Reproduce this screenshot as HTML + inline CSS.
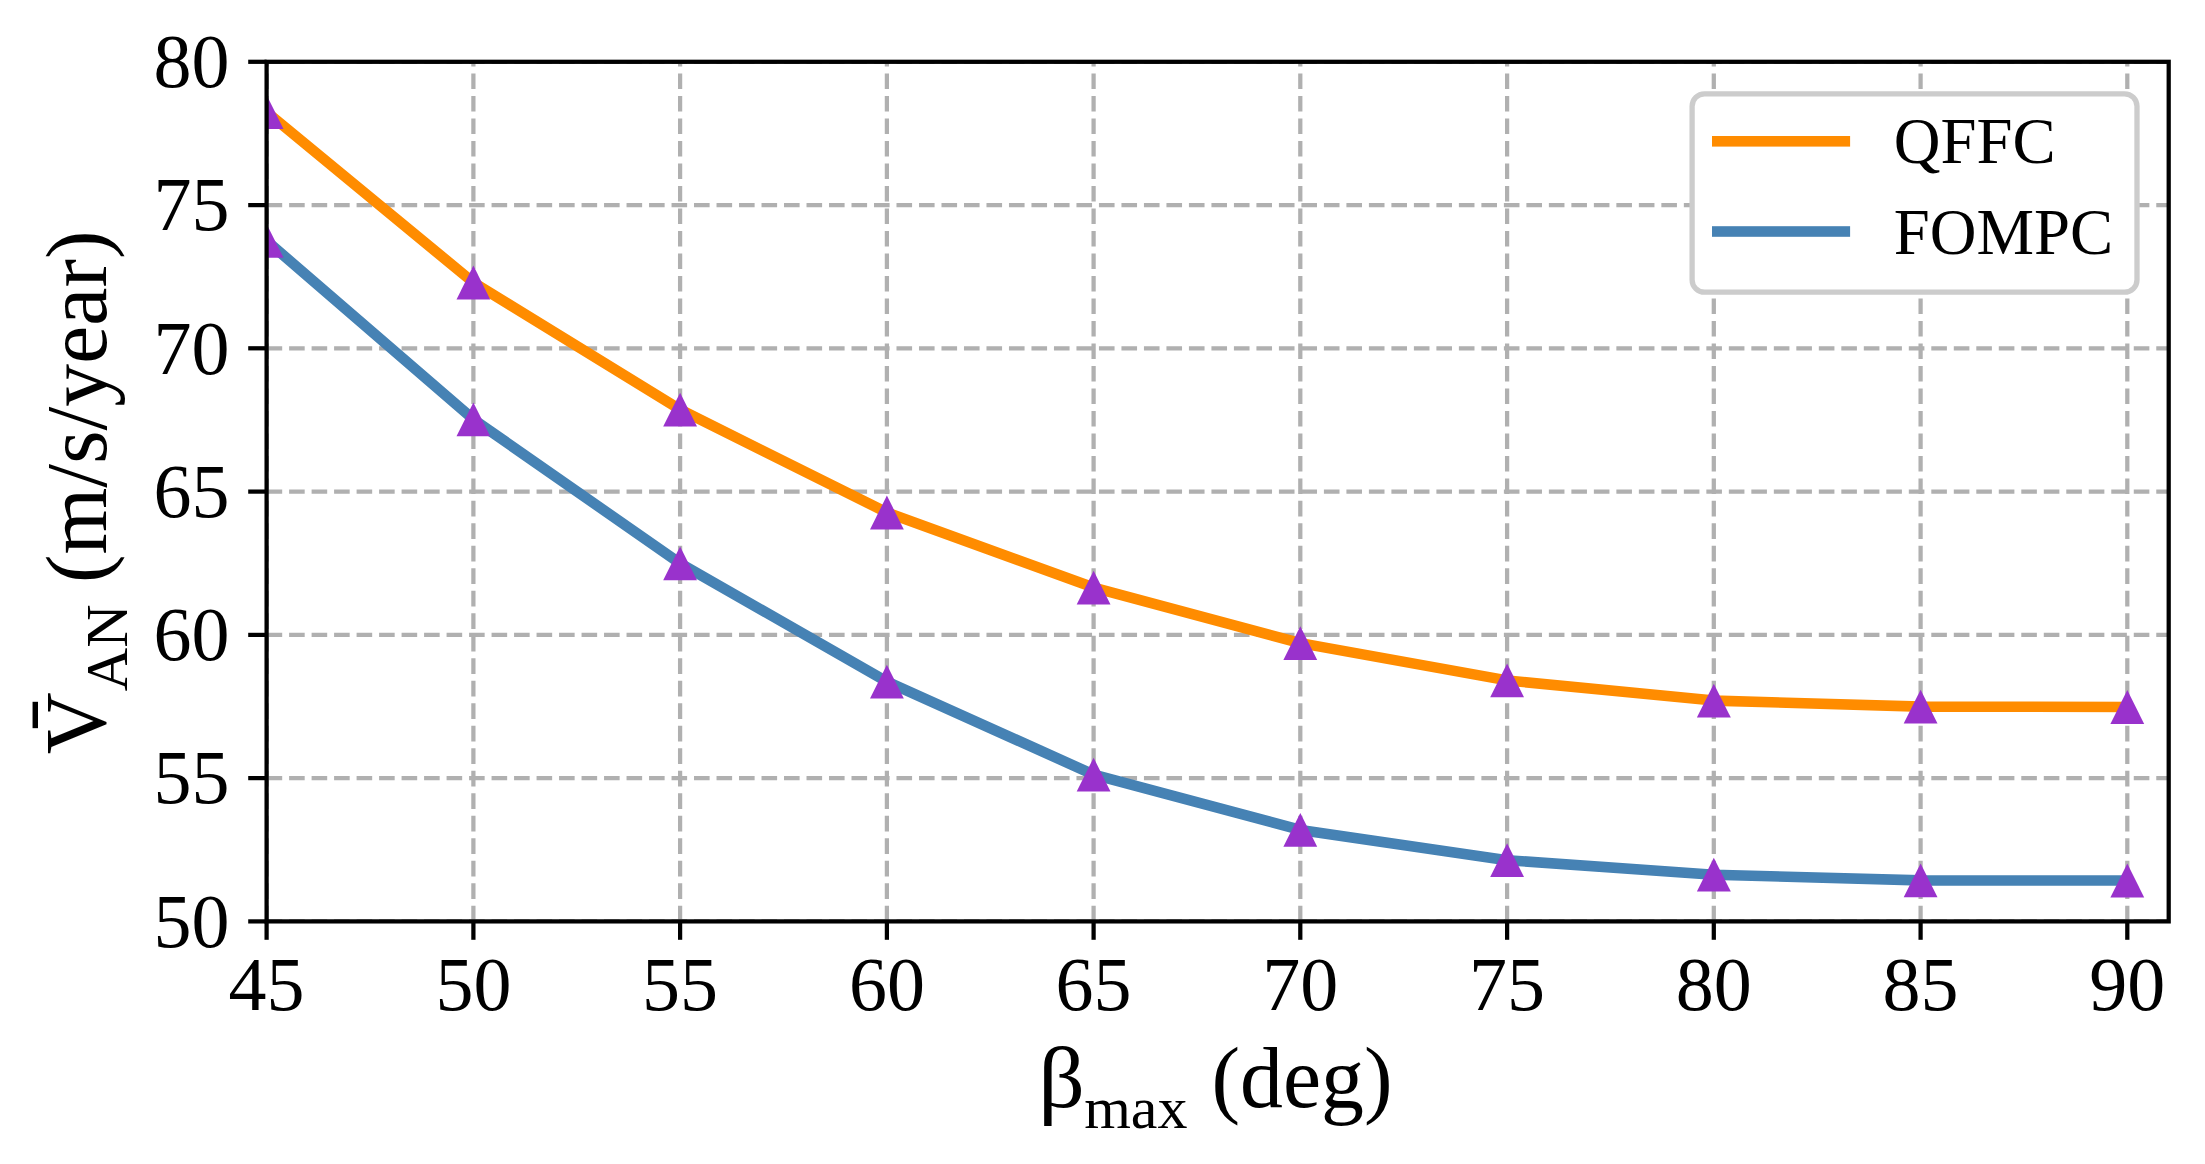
<!DOCTYPE html>
<html lang="en">
<head>
<meta charset="utf-8">
<title>V_AN vs beta_max</title>
<style>
html,body{margin:0;padding:0;background:#fff;}
body{width:2205px;height:1164px;overflow:hidden;}
svg{display:block;}
text{font-family:"Liberation Serif","DejaVu Serif",serif;fill:#000;}
</style>
</head>
<body>
<svg width="2205" height="1164" viewBox="0 0 2205 1164">
<rect x="0" y="0" width="2205" height="1164" fill="#ffffff"/>
<defs><clipPath id="ax"><rect x="266.6" y="61.8" width="1902.1" height="859.6"/></clipPath></defs>
<g stroke="#b0b0b0" stroke-width="4.25" stroke-dasharray="15.6 6.896" fill="none" clip-path="url(#ax)">
<line x1="266.6" y1="921.4" x2="266.6" y2="61.8"/>
<line x1="473.4" y1="921.4" x2="473.4" y2="61.8"/>
<line x1="680.1" y1="921.4" x2="680.1" y2="61.8"/>
<line x1="886.9" y1="921.4" x2="886.9" y2="61.8"/>
<line x1="1093.6" y1="921.4" x2="1093.6" y2="61.8"/>
<line x1="1300.3" y1="921.4" x2="1300.3" y2="61.8"/>
<line x1="1507.1" y1="921.4" x2="1507.1" y2="61.8"/>
<line x1="1713.8" y1="921.4" x2="1713.8" y2="61.8"/>
<line x1="1920.6" y1="921.4" x2="1920.6" y2="61.8"/>
<line x1="2127.3" y1="921.4" x2="2127.3" y2="61.8"/>
<line x1="266.6" y1="61.8" x2="2168.7" y2="61.8"/>
<line x1="266.6" y1="205.1" x2="2168.7" y2="205.1"/>
<line x1="266.6" y1="348.3" x2="2168.7" y2="348.3"/>
<line x1="266.6" y1="491.6" x2="2168.7" y2="491.6"/>
<line x1="266.6" y1="634.9" x2="2168.7" y2="634.9"/>
<line x1="266.6" y1="778.1" x2="2168.7" y2="778.1"/>
<line x1="266.6" y1="921.4" x2="2168.7" y2="921.4"/>
</g>
<g clip-path="url(#ax)">
<polyline points="266.6,112.0 473.4,282.5 680.1,409.6 886.9,512.5 1093.6,587.6 1300.3,643.1 1507.1,680.4 1713.8,700.6 1920.6,706.6 2127.3,707.0" fill="none" stroke="#ff8c00" stroke-width="10.6" stroke-linejoin="round" stroke-linecap="square"/>
<polyline points="266.6,240.8 473.4,419.3 680.1,563.4 886.9,681.6 1093.6,774.6 1300.3,829.9 1507.1,860.2 1713.8,874.7 1920.6,880.4 2127.3,880.5" fill="none" stroke="#4682b4" stroke-width="10.6" stroke-linejoin="round" stroke-linecap="square"/>
<g fill="#9932cc">
<polygon points="266.6,95.1 249.7,128.9 283.5,128.9"/>
<polygon points="473.4,265.6 456.5,299.4 490.2,299.4"/>
<polygon points="680.1,392.7 663.2,426.5 697.0,426.5"/>
<polygon points="886.9,495.6 870.0,529.4 903.8,529.4"/>
<polygon points="1093.6,570.7 1076.7,604.5 1110.5,604.5"/>
<polygon points="1300.3,626.2 1283.4,660.0 1317.2,660.0"/>
<polygon points="1507.1,663.5 1490.2,697.3 1524.0,697.3"/>
<polygon points="1713.8,683.7 1696.9,717.5 1730.8,717.5"/>
<polygon points="1920.6,689.7 1903.7,723.5 1937.5,723.5"/>
<polygon points="2127.3,690.1 2110.4,723.9 2144.2,723.9"/>
<polygon points="266.6,223.9 249.7,257.7 283.5,257.7"/>
<polygon points="473.4,402.4 456.5,436.2 490.2,436.2"/>
<polygon points="680.1,546.5 663.2,580.3 697.0,580.3"/>
<polygon points="886.9,664.7 870.0,698.5 903.8,698.5"/>
<polygon points="1093.6,757.7 1076.7,791.5 1110.5,791.5"/>
<polygon points="1300.3,813.0 1283.4,846.8 1317.2,846.8"/>
<polygon points="1507.1,843.3 1490.2,877.1 1524.0,877.1"/>
<polygon points="1713.8,857.8 1696.9,891.6 1730.8,891.6"/>
<polygon points="1920.6,863.5 1903.7,897.3 1937.5,897.3"/>
<polygon points="2127.3,863.6 2110.4,897.4 2144.2,897.4"/>
</g>
</g>
<g stroke="#000" stroke-width="4.25" fill="none">
<line x1="266.6" y1="921.4" x2="266.6" y2="939.8"/>
<line x1="473.4" y1="921.4" x2="473.4" y2="939.8"/>
<line x1="680.1" y1="921.4" x2="680.1" y2="939.8"/>
<line x1="886.9" y1="921.4" x2="886.9" y2="939.8"/>
<line x1="1093.6" y1="921.4" x2="1093.6" y2="939.8"/>
<line x1="1300.3" y1="921.4" x2="1300.3" y2="939.8"/>
<line x1="1507.1" y1="921.4" x2="1507.1" y2="939.8"/>
<line x1="1713.8" y1="921.4" x2="1713.8" y2="939.8"/>
<line x1="1920.6" y1="921.4" x2="1920.6" y2="939.8"/>
<line x1="2127.3" y1="921.4" x2="2127.3" y2="939.8"/>
<line x1="266.6" y1="61.8" x2="248.2" y2="61.8"/>
<line x1="266.6" y1="205.1" x2="248.2" y2="205.1"/>
<line x1="266.6" y1="348.3" x2="248.2" y2="348.3"/>
<line x1="266.6" y1="491.6" x2="248.2" y2="491.6"/>
<line x1="266.6" y1="634.9" x2="248.2" y2="634.9"/>
<line x1="266.6" y1="778.1" x2="248.2" y2="778.1"/>
<line x1="266.6" y1="921.4" x2="248.2" y2="921.4"/>
<rect x="266.6" y="61.8" width="1902.1" height="859.6" stroke-linejoin="miter"/>
</g>
<g font-size="76" text-anchor="middle">
<text x="266.6" y="1009.9">45</text>
<text x="473.4" y="1009.9">50</text>
<text x="680.1" y="1009.9">55</text>
<text x="886.9" y="1009.9">60</text>
<text x="1093.6" y="1009.9">65</text>
<text x="1300.3" y="1009.9">70</text>
<text x="1507.1" y="1009.9">75</text>
<text x="1713.8" y="1009.9">80</text>
<text x="1920.6" y="1009.9">85</text>
<text x="2127.3" y="1009.9">90</text>
</g>
<g font-size="76" text-anchor="end">
<text x="229.4" y="87.0">80</text>
<text x="229.4" y="230.3">75</text>
<text x="229.4" y="373.5">70</text>
<text x="229.4" y="516.8">65</text>
<text x="229.4" y="660.1">60</text>
<text x="229.4" y="803.4">55</text>
<text x="229.4" y="946.6">50</text>
</g>
<text transform="translate(1038.3,1106.8) scale(1.067,1)" font-size="85.8">β</text>
<text x="1084.2" y="1128.3" font-size="60">max</text>
<text x="1211.5" y="1106.8" font-size="85.8">(deg)</text>
<g transform="rotate(-90)">
<text x="-754.3" y="105.3" font-size="85.8">V</text>
<text transform="translate(-727.8,121.63) scale(1,2.305)" font-size="51.05">¯</text>
<text x="-691.2" y="127.3" font-size="60">AN</text>
<text x="-583" y="105.5" font-size="85.8">(m/s/year)</text>
</g>
<rect x="1692.1" y="93.8" width="444.9" height="198.4" rx="12.5" ry="12.5" fill="#ffffff" stroke="#cccccc" stroke-width="5.3"/>
<rect x="1712" y="136" width="138.1" height="10.6" fill="#ff8c00"/>
<rect x="1712" y="226.2" width="138.1" height="10.6" fill="#4682b4"/>
<text x="1893.8" y="163.3" font-size="64.7">QFFC</text>
<text x="1893.8" y="253.8" font-size="64.7">FOMPC</text>
</svg>
</body>
</html>
